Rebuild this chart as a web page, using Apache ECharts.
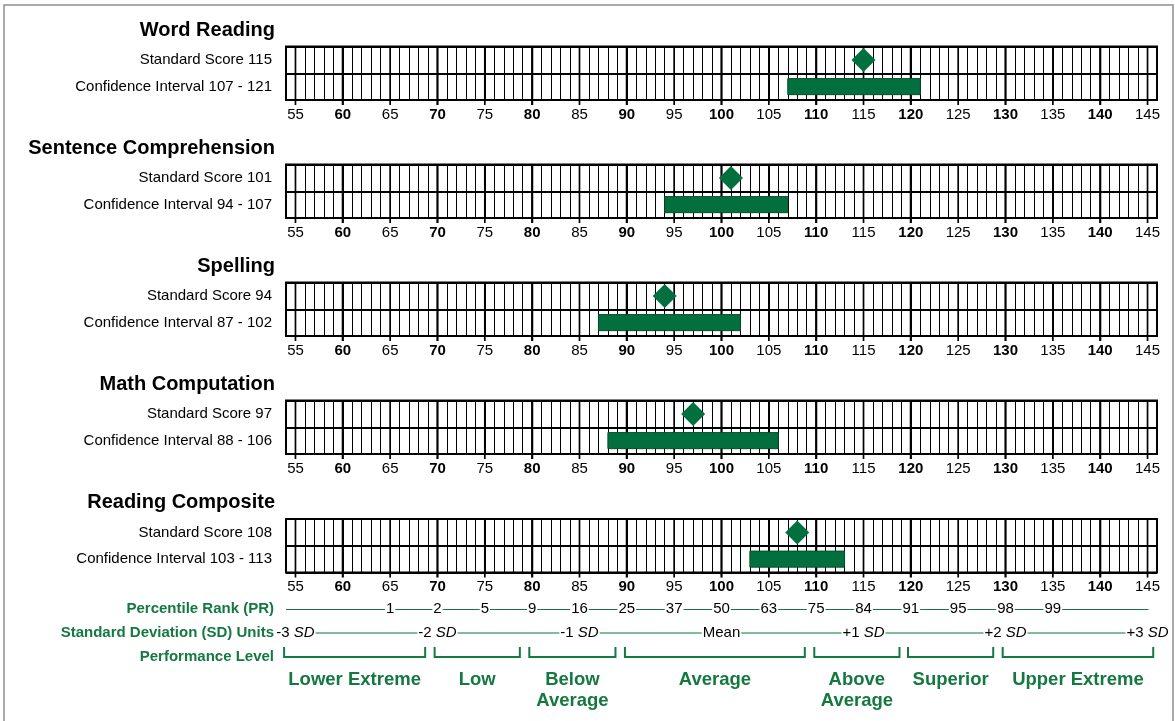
<!DOCTYPE html>
<html>
<head>
<meta charset="utf-8">
<script src="https://cdn.jsdelivr.net/npm/echarts@6/dist/echarts.min.js"></script>
<style>
html,body{margin:0;padding:0;background:#fff;}
#chart{width:1175px;height:721px;}
</style>
</head>
<body>
<div id="chart"></div>
<script>
// ---------- data ----------
const subtests = ['Word Reading', 'Sentence Comprehension', 'Spelling', 'Math Computation', 'Reading Composite'];
const standardScores = [115, 101, 94, 97, 108];
const ciLow = [107, 94, 87, 88, 103];
const ciHigh = [121, 107, 102, 106, 113];
const scaleMin = 54;
const scaleMax = 146;
const scaleTicks = [55, 60, 65, 70, 75, 80, 85, 90, 95, 100, 105, 110, 115, 120, 125, 130, 135, 140, 145];
const percentilePositions = [65, 70, 75, 80, 85, 90, 95, 100, 105, 110, 115, 120, 125, 130, 135];
const percentileLabels = ['1', '2', '5', '9', '16', '25', '37', '50', '63', '75', '84', '91', '95', '98', '99'];
const sdPositions = [55, 70, 85, 100, 115, 130, 145];
const sdLabels = ['-3', '-2', '-1', 'Mean', '+1', '+2', '+3'];
const levelNames = ['Lower Extreme', 'Low', 'Below\nAverage', 'Average', 'Above\nAverage', 'Superior', 'Upper Extreme'];
const levelLow = [53.8, 69.7, 79.7, 89.8, 109.8, 119.7, 129.7];
const levelHigh = [68.7, 78.7, 88.8, 108.8, 118.8, 128.7, 145.6];
const bottomRows = ['Percentile Rank (PR)', 'Standard Deviation (SD) Units', 'Performance Level'];

// ---------- style ----------
const FONT = 'Arial, "Liberation Sans", Helvetica, sans-serif';
const GREEN = '#02703E';
const TEXT_GREEN = '#13793F';
const GRID_LEFT = 286, GRID_WIDTH = 871, GRID_H = 53.5;
const gridTops = [46.5, 164.5, 282.5, 400.5, 519];

const grids = [], xAxes = [], yAxes = [], series = [], graphics = [];

graphics.push({
  type: 'rect', silent: true, z: -10,
  shape: {x: 4, y: 5, width: 1169, height: 740},
  style: {fill: 'none', stroke: '#8f8f8f', lineWidth: 1.5}
});

subtests.forEach((name, i) => {
  grids.push({left: GRID_LEFT, width: GRID_WIDTH, top: gridTops[i], height: GRID_H,
    show: true, borderColor: '#000', borderWidth: 2, backgroundColor: '#fff'});
  xAxes.push({
    type: 'value', gridIndex: i, min: scaleMin, max: scaleMax, interval: 1,
    axisLine: {show: false}, axisTick: {show: false},
    splitLine: {show: true, lineStyle: {color: '#000', width: 1}},
    axisLabel: {
      margin: 7, fontSize: 15, color: '#000', fontFamily: FONT,
      showMinLabel: false, showMaxLabel: false,
      formatter: v => (v % 5 === 0 ? (v % 10 === 0 ? '{b|' + v + '}' : String(v)) : ''),
      rich: {b: {fontWeight: 'bold', fontSize: 15, fontFamily: FONT, color: '#000'}}
    }
  });
  yAxes.push({
    type: 'category', gridIndex: i, inverse: true,
    data: ['Standard Score ' + standardScores[i], 'Confidence Interval ' + ciLow[i] + ' - ' + ciHigh[i]],
    axisLine: {show: false}, axisTick: {show: false},
    splitLine: {show: true, lineStyle: {color: '#000', width: 2}},
    axisLabel: {margin: 14, fontSize: 15, color: '#000', fontFamily: FONT}
  });
  graphics.push({
    type: 'text', x: 275, y: gridTops[i] - 16.5, silent: true,
    style: {text: name, align: 'right', verticalAlign: 'middle',
      font: 'bold 20px ' + FONT, fill: '#000'}
  });
  // major lines at multiples of 5 plus ticks below
  series.push({
    type: 'custom', xAxisIndex: i, yAxisIndex: i, z: 3, clip: false, silent: true,
    data: scaleTicks.map(v => [v, 0]),
    encode: {x: 0, y: 1},
    renderItem: (params, api) => {
      const v = api.value(0);
      const p = api.coord([v, 0]);
      const cs = params.coordSys;
      return {type: 'line',
        shape: {x1: p[0], y1: cs.y, x2: p[0], y2: cs.y + cs.height + 5},
        style: {stroke: '#000', lineWidth: v % 10 === 0 ? 2.2 : 1.7}};
    }
  });
  // confidence interval bar
  series.push({
    type: 'custom', xAxisIndex: i, yAxisIndex: i, z: 5, silent: true,
    data: [[ciLow[i], ciHigh[i], 1]],
    encode: {x: [0, 1], y: 2},
    renderItem: (params, api) => {
      const s = api.coord([api.value(0), api.value(2)]);
      const e = api.coord([api.value(1), api.value(2)]);
      const h = api.size([0, 1])[1] * 0.6;
      return {type: 'rect',
        shape: {x: s[0], y: s[1] - h / 2, width: e[0] - s[0], height: h},
        style: {fill: GREEN, stroke: '#064d2c', lineWidth: 1}};
    }
  });
  // standard score diamond
  series.push({
    type: 'scatter', xAxisIndex: i, yAxisIndex: i, z: 6, silent: true,
    symbol: 'diamond', symbolSize: [24, 24],
    itemStyle: {color: GREEN, opacity: 1},
    data: [[standardScores[i], 0]]
  });
});

// ---------- bottom legend grid ----------
const bi = subtests.length;
grids.push({left: GRID_LEFT, width: GRID_WIDTH, top: 597, height: 72, show: false});
xAxes.push({type: 'value', gridIndex: bi, min: scaleMin, max: scaleMax, show: false});
yAxes.push({
  type: 'category', gridIndex: bi, inverse: true, data: bottomRows,
  axisLine: {show: false}, axisTick: {show: false}, splitLine: {show: false},
  axisLabel: {margin: 12, fontSize: 15, fontWeight: 'bold', color: TEXT_GREEN, fontFamily: FONT}
});

function hLine(from, to, row, color, width, off) {
  return {
    type: 'custom', xAxisIndex: bi, yAxisIndex: bi, z: 2, clip: false, silent: true,
    data: [[from, to, row]], encode: {x: [0, 1], y: 2},
    renderItem: (params, api) => {
      const s = api.coord([api.value(0), api.value(2)]);
      const e = api.coord([api.value(1), api.value(2)]);
      const y = Math.round(s[1]) + off;
      return {type: 'line', shape: {x1: s[0], y1: y, x2: e[0], y2: y},
        style: {stroke: color, lineWidth: width}};
    }
  };
}
series.push(hLine(scaleMin, scaleMax - 0.9, 0, '#147740', 1, 0.5));
series.push(hLine(sdPositions[0], sdPositions[sdPositions.length - 1], 1, '#7dbf9b', 2, 0));

// percentile labels
series.push({
  type: 'custom', xAxisIndex: bi, yAxisIndex: bi, z: 4, clip: false, silent: true,
  data: percentilePositions.map(v => [v, 0]), encode: {x: 0, y: 1},
  renderItem: (params, api) => {
    const p = api.coord([api.value(0), api.value(1)]);
    return {type: 'text', x: p[0], y: p[1],
      style: {text: percentileLabels[params.dataIndex], align: 'center', verticalAlign: 'middle',
        font: '15px ' + FONT, fill: '#000', backgroundColor: '#fff', padding: [1, 1]}};
  }
});
// SD labels
series.push({
  type: 'custom', xAxisIndex: bi, yAxisIndex: bi, z: 4, clip: false, silent: true,
  data: sdPositions.map(v => [v, 1]), encode: {x: 0, y: 1},
  renderItem: (params, api) => {
    const p = api.coord([api.value(0), api.value(1)]);
    const lab = sdLabels[params.dataIndex];
    const txt = lab === 'Mean' ? '{n|Mean}' : '{n|' + lab + ' }{i|SD}';
    return {type: 'text', x: p[0], y: p[1],
      style: {text: txt, align: 'center', verticalAlign: 'middle',
        backgroundColor: '#fff', padding: [1, 1],
        rich: {
          n: {fontSize: 15, fontFamily: FONT, color: '#000'},
          i: {fontSize: 15, fontFamily: FONT, color: '#000', fontStyle: 'italic'}
        }}};
  }
});
// performance level brackets
series.push({
  type: 'custom', xAxisIndex: bi, yAxisIndex: bi, z: 4, clip: false, silent: true,
  data: levelLow.map((lo, k) => [lo, levelHigh[k], 2]), encode: {x: [0, 1], y: 2},
  renderItem: (params, api) => {
    const s = api.coord([api.value(0), api.value(2)]);
    const e = api.coord([api.value(1), api.value(2)]);
    const yb = s[1];
    return {type: 'group', children: [
      {type: 'polyline',
        shape: {points: [[s[0], yb - 10], [s[0], yb], [e[0], yb], [e[0], yb - 10]]},
        style: {stroke: '#137a40', lineWidth: 2, fill: null}},
      {type: 'text', x: (s[0] + e[0]) / 2, y: yb + 12,
        style: {text: levelNames[params.dataIndex], align: 'center', verticalAlign: 'top',
          font: 'bold 18.5px ' + FONT, fill: TEXT_GREEN, lineHeight: 21}}
    ]};
  }
});

const chart = echarts.init(document.getElementById('chart'), null, {renderer: 'canvas'});
chart.setOption({
  animation: false,
  backgroundColor: '#fff',
  textStyle: {fontFamily: FONT},
  grid: grids, xAxis: xAxes, yAxis: yAxes, series: series, graphic: graphics
});
</script>
</body>
</html>
